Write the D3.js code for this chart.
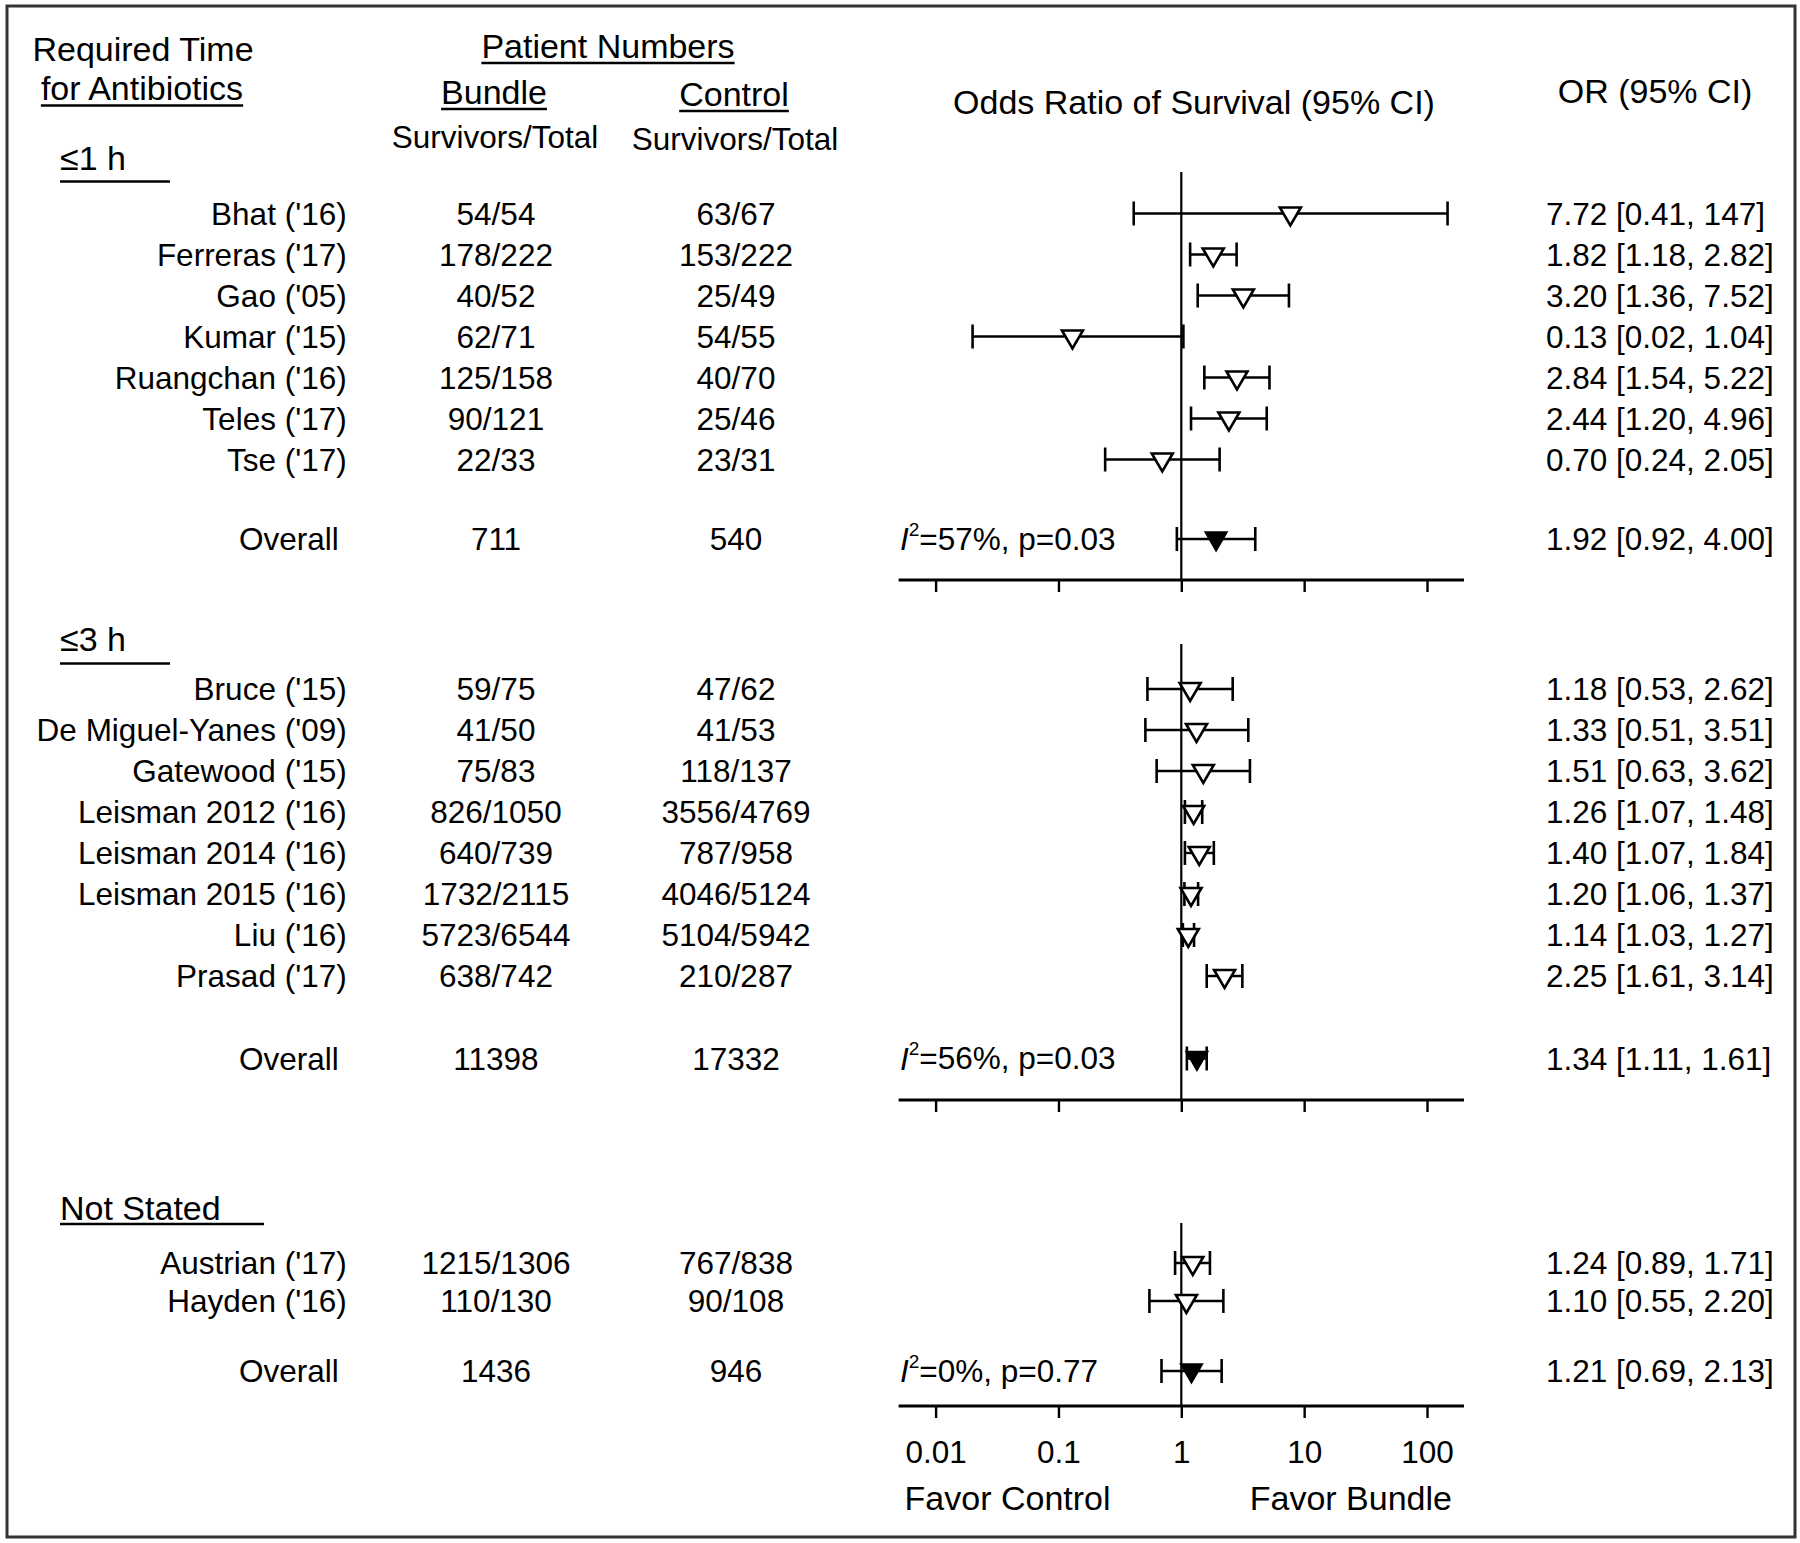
<!DOCTYPE html>
<html>
<head>
<meta charset="utf-8">
<script src="https://cdn.jsdelivr.net/npm/d3@7"></script>
<style>
  html, body { margin: 0; padding: 0; background: #fff; }
  svg { display: block; }
  text { font-family: "Liberation Sans", Arial, Helvetica, sans-serif; fill: #000; }
</style>
</head>
<body>
<svg id="chart" width="1800" height="1543"></svg>
<script>
// ---------------- DATA ----------------
const groupLabels = ["≤1 h", "≤3 h", "Not Stated"];
const studyGroup = [0,0,0,0,0,0,0, 1,1,1,1,1,1,1,1, 2,2];
const studyNames = [
  "Bhat ('16)", "Ferreras ('17)", "Gao ('05)", "Kumar ('15)", "Ruangchan ('16)", "Teles ('17)", "Tse ('17)",
  "Bruce ('15)", "De Miguel-Yanes ('09)", "Gatewood ('15)", "Leisman 2012 ('16)", "Leisman 2014 ('16)",
  "Leisman 2015 ('16)", "Liu ('16)", "Prasad ('17)",
  "Austrian ('17)", "Hayden ('16)"
];
const bundleCounts = ["54/54","178/222","40/52","62/71","125/158","90/121","22/33",
  "59/75","41/50","75/83","826/1050","640/739","1732/2115","5723/6544","638/742",
  "1215/1306","110/130"];
const controlCounts = ["63/67","153/222","25/49","54/55","40/70","25/46","23/31",
  "47/62","41/53","118/137","3556/4769","787/958","4046/5124","5104/5942","210/287",
  "767/838","90/108"];
const orValues = [7.72, 1.82, 3.20, 0.13, 2.84, 2.44, 0.70,
  1.18, 1.33, 1.51, 1.26, 1.40, 1.20, 1.14, 2.25,
  1.24, 1.10];
const ciLow = [0.41, 1.18, 1.36, 0.02, 1.54, 1.20, 0.24,
  0.53, 0.51, 0.63, 1.07, 1.07, 1.06, 1.03, 1.61,
  0.89, 0.55];
const ciHigh = [147, 2.82, 7.52, 1.04, 5.22, 4.96, 2.05,
  2.62, 3.51, 3.62, 1.48, 1.84, 1.37, 1.27, 3.14,
  1.71, 2.20];
const overallBundle = ["711", "11398", "1436"];
const overallControl = ["540", "17332", "946"];
const overallOR = [1.92, 1.34, 1.21];
const overallLow = [0.92, 1.11, 0.69];
const overallHigh = [4.00, 1.61, 2.13];
const heterogeneityI2 = ["57%", "56%", "0%"];
const heterogeneityP = ["0.03", "0.03", "0.77"];
const tickValues = [0.01, 0.1, 1, 10, 100];
const tickLabels = ["0.01", "0.1", "1", "10", "100"];

// ---------------- LAYOUT ----------------
const svg = d3.select("#chart");
const FS_ROW = 31.5, FS_HEAD = 34;
const colLabel = 346.7, colOverallLabel = 338.7, colBundle = 496, colControl = 736, colI2 = 900, colOR = 1546;

const x = d3.scaleLog().domain([0.01, 100]).range([935.6, 1427]);
const axisStart = x(0.005), axisEnd = x(200);

const sections = [
  { header: 158.5, underY: 181.5, underW: 110, first: 213.5, step: 41, overall: 539, axis: 580, vtop: 172 },
  { header: 639.5, underY: 663.5, underW: 110, first: 689, step: 41, overall: 1058.5, axis: 1100, vtop: 644 },
  { header: 1208, underY: 1224, underW: 204, first: 1263, step: 38, overall: 1371, axis: 1406, vtop: 1223 }
];

// Border
svg.append("rect").attr("x", 7).attr("y", 6).attr("width", 1788).attr("height", 1531)
  .attr("fill", "none").attr("stroke", "#333").attr("stroke-width", 3);

// Header helper with optional underline
function headText(txt, cx, cy, size, underline, underOffset) {
  const t = svg.append("text").attr("x", cx).attr("y", cy).attr("dy", "0.35em")
    .attr("text-anchor", "middle").attr("font-size", size).text(txt);
  if (underline) {
    const w = t.node().getComputedTextLength();
    svg.append("line").attr("x1", cx - w / 2).attr("x2", cx + w / 2)
      .attr("y1", cy + underOffset).attr("y2", cy + underOffset)
      .attr("stroke", "#000").attr("stroke-width", 2.5);
  }
  return t;
}
headText("Required Time", 143, 49.5, FS_HEAD, false);
headText("for Antibiotics", 142, 88.5, FS_HEAD, true, 17);
headText("Patient Numbers", 608, 46, FS_HEAD, true, 17);
headText("Bundle", 494, 92, FS_HEAD, true, 17);
headText("Control", 734, 94, FS_HEAD, true, 17);
headText("Survivors/Total", 495, 137, FS_ROW, false);
headText("Survivors/Total", 735, 139, FS_ROW, false);
headText("Odds Ratio of Survival (95% CI)", 1194, 102, FS_HEAD, false);
headText("OR (95% CI)", 1655, 91, FS_HEAD, false);

const fmt = v => v >= 100 ? String(v) : v.toFixed(2);
const orText = (o, l, h) => `${fmt(o)} [${fmt(l)}, ${fmt(h)}]`;

function triangle(g, cx, cy, filled) {
  const w = filled ? 11 : 10.5, top = filled ? 7 : 6, bot = 12;
  g.append("path")
    .attr("d", `M${cx - w},${cy - top} L${cx + w},${cy - top} L${cx},${cy + bot} Z`)
    .attr("fill", filled ? "#000" : "#fff")
    .attr("stroke", "#000").attr("stroke-width", filled ? 1.5 : 2.6)
    .attr("stroke-linejoin", "miter");
}

function ciBar(g, lo, hi, cy) {
  const x1 = x(lo), x2 = x(hi);
  g.append("line").attr("x1", x1).attr("x2", x2).attr("y1", cy).attr("y2", cy)
    .attr("stroke", "#000").attr("stroke-width", 2.4);
  [x1, x2].forEach(xx => g.append("line").attr("x1", xx).attr("x2", xx)
    .attr("y1", cy - 12).attr("y2", cy + 12).attr("stroke", "#000").attr("stroke-width", 2.6));
}

sections.forEach((s, gi) => {
  const g = svg.append("g");
  // section header
  g.append("text").attr("x", 60).attr("y", s.header).attr("dy", "0.35em")
    .attr("font-size", FS_HEAD).text(groupLabels[gi]);
  g.append("line").attr("x1", 60).attr("x2", 60 + s.underW).attr("y1", s.underY).attr("y2", s.underY)
    .attr("stroke", "#000").attr("stroke-width", 2.5);

  // vertical reference line at OR = 1
  g.append("line").attr("x1", x(1)).attr("x2", x(1)).attr("y1", s.vtop).attr("y2", s.axis)
    .attr("stroke", "#000").attr("stroke-width", 2.2);

  // axis
  const axisG = g.append("g").attr("transform", `translate(0,${s.axis})`);
  const ax = d3.axisBottom(x).tickValues(tickValues).tickSizeOuter(0).tickSize(12)
    .tickFormat((d, i) => gi === 2 ? tickLabels[i] : "");
  axisG.call(ax);
  axisG.select(".domain").remove();
  axisG.selectAll(".tick line").attr("stroke", "#000").attr("stroke-width", 2.4);
  axisG.selectAll(".tick text").attr("y", 46).attr("dy", "0.35em")
    .attr("font-size", FS_ROW).attr("font-family", null).attr("fill", "#000");
  axisG.append("line").attr("x1", axisStart).attr("x2", axisEnd).attr("y1", 0).attr("y2", 0)
    .attr("stroke", "#000").attr("stroke-width", 3);

  // studies
  const idx = studyGroup.map((gg, i) => gg === gi ? i : -1).filter(i => i >= 0);
  idx.forEach((i, k) => {
    const y = s.first + k * s.step;
    g.append("text").attr("x", colLabel).attr("y", y).attr("dy", "0.35em")
      .attr("text-anchor", "end").attr("font-size", FS_ROW).text(studyNames[i]);
    g.append("text").attr("x", colBundle).attr("y", y).attr("dy", "0.35em")
      .attr("text-anchor", "middle").attr("font-size", FS_ROW).text(bundleCounts[i]);
    g.append("text").attr("x", colControl).attr("y", y).attr("dy", "0.35em")
      .attr("text-anchor", "middle").attr("font-size", FS_ROW).text(controlCounts[i]);
    g.append("text").attr("x", colOR).attr("y", y).attr("dy", "0.35em")
      .attr("font-size", FS_ROW).text(orText(orValues[i], ciLow[i], ciHigh[i]));
    ciBar(g, ciLow[i], ciHigh[i], y);
    triangle(g, x(orValues[i]), y, false);
  });

  // overall
  const oy = s.overall;
  g.append("text").attr("x", colOverallLabel).attr("y", oy).attr("dy", "0.35em")
    .attr("text-anchor", "end").attr("font-size", FS_ROW).text("Overall");
  g.append("text").attr("x", colBundle).attr("y", oy).attr("dy", "0.35em")
    .attr("text-anchor", "middle").attr("font-size", FS_ROW).text(overallBundle[gi]);
  g.append("text").attr("x", colControl).attr("y", oy).attr("dy", "0.35em")
    .attr("text-anchor", "middle").attr("font-size", FS_ROW).text(overallControl[gi]);
  g.append("text").attr("x", colOR).attr("y", oy).attr("dy", "0.35em")
    .attr("font-size", FS_ROW).text(orText(overallOR[gi], overallLow[gi], overallHigh[gi]));
  const het = g.append("text").attr("x", colI2).attr("y", oy).attr("dy", "0.35em").attr("font-size", FS_ROW);
  het.append("tspan").attr("font-style", "italic").text("I");
  het.append("tspan").attr("font-size", 19).attr("dy", "-0.75em").text("2");
  het.append("tspan").attr("dy", "0.45em").text(`=${heterogeneityI2[gi]}, p=${heterogeneityP[gi]}`);
  ciBar(g, overallLow[gi], overallHigh[gi], oy);
  triangle(g, x(overallOR[gi]), oy, true);
});

// Favor labels
svg.append("text").attr("x", 904.6).attr("y", 1498).attr("dy", "0.35em")
  .attr("font-size", FS_HEAD).text("Favor Control");
svg.append("text").attr("x", 1452).attr("y", 1498).attr("dy", "0.35em")
  .attr("text-anchor", "end").attr("font-size", FS_HEAD).text("Favor Bundle");
</script>
</body>
</html>
